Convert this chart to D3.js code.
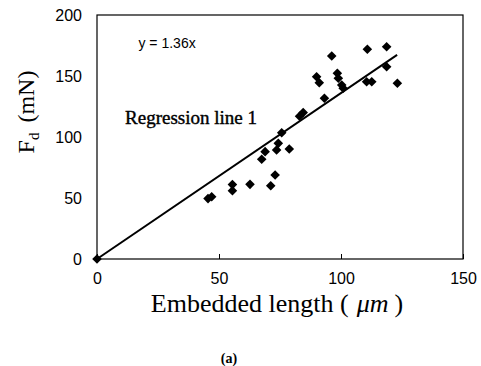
<!DOCTYPE html>
<html>
<head>
<meta charset="utf-8">
<script src="https://cdn.jsdelivr.net/npm/d3@7"></script>
<style>
  body { margin: 0; background: #fff; }
  .tick text { font-family: "Liberation Sans", Arial, sans-serif; font-size: 16px; fill: #000; }
</style>
</head>
<body>
<div id="chart"></div>
<script>
// embedded length (um) and pull-out force (mN)
var embedded = [0, 45.5, 47, 55.5, 55.5, 62.7, 71.2, 73, 67.5, 68.9, 73.6, 74.3, 75.7, 78.8,
  83, 84.5, 90, 91.1, 93.2, 96.2, 98.5, 98.9, 100.3, 100.9, 110.8, 110.5, 112.6, 118.7, 118.7, 123.1];
var force = [0, 49.5, 51, 56, 61, 61.2, 60, 68.9, 81.7, 88, 89.3, 94.8, 103.5, 90.2,
  117, 120, 149.4, 144.5, 131.7, 166.4, 152.2, 148.1, 142.6, 139.9, 171.9, 145.3, 145.3, 174, 157.6, 144];
var slope = 1.36;
var fitRange = [0, 123];
var xTicks = [0, 50, 100, 150];
var yTicks = [0, 50, 100, 150, 200];

(function() {
  var margin, width, height, svg, g, x, y, pts, i, fit, xt, yt;
  margin = { top: 15, right: 18, bottom: 107, left: 97 };
  width = 481 - margin.left - margin.right;
  height = 366 - margin.top - margin.bottom;

  svg = d3.select("#chart").append("svg").attr("width", 481).attr("height", 366);
  g = svg.append("g").attr("transform", "translate(" + margin.left + "," + margin.top + ")");

  x = d3.scaleLinear().domain([0, 150]).range([0, width]);
  y = d3.scaleLinear().domain([0, 200]).range([height, 0]);

  // x axis: ticks point up into the plot
  g.append("g").attr("class", "x axis").attr("transform", "translate(0," + height + ")")
    .call(d3.axisBottom(x).tickValues(xTicks).tickSizeInner(-5).tickSizeOuter(0).tickPadding(14))
    .call(function(a) { a.select(".domain").remove(); });

  g.append("g").attr("class", "y axis")
    .call(d3.axisLeft(y).tickValues(yTicks).tickSize(0).tickPadding(15))
    .call(function(a) { a.select(".domain").remove(); });

  g.selectAll(".x.axis .tick line").attr("stroke", "#000");

  // plot frame
  g.append("rect").attr("x", 0).attr("y", 0).attr("width", width).attr("height", height)
    .attr("fill", "none").attr("stroke", "#000").attr("stroke-width", 1.2);

  fit = fitRange.map(function(v) { return { x: v, y: slope * v }; });
  g.append("path").datum(fit)
    .attr("fill", "none").attr("stroke", "#000").attr("stroke-width", 2)
    .attr("d", d3.line().x(function(d) { return x(d.x); }).y(function(d) { return y(d.y); }));

  pts = [];
  for (i = 0; i < embedded.length; i++) pts.push({ x: embedded[i], y: force[i] });

  g.selectAll(".pt").data(pts).enter().append("path").attr("class", "pt")
    .attr("d", d3.symbol(d3.symbolSquare, 46))
    .attr("transform", function(d) { return "translate(" + x(d.x) + "," + y(d.y) + ") rotate(45)"; })
    .attr("fill", "#000");

  g.append("text").attr("x", x(17)).attr("y", y(173))
    .attr("font-family", "Liberation Sans, Arial, sans-serif").attr("font-size", 14)
    .text("y = 1.36x");

  g.append("text").attr("x", x(11.5)).attr("y", y(111))
    .attr("font-family", "Liberation Serif, Times New Roman, serif").attr("font-size", 19)
    .attr("stroke", "#000").attr("stroke-width", 0.4)
    .text("Regression line 1");

  // axis titles
  xt = svg.append("text").attr("x", 277).attr("y", 312).attr("text-anchor", "middle")
    .attr("font-family", "Liberation Serif, Times New Roman, serif").attr("font-size", 26);
  xt.append("tspan").text("Embedded length (");
  xt.append("tspan").attr("dx", 8).attr("font-style", "italic").text("\u03bcm");
  xt.append("tspan").attr("dx", 6).text(")");

  yt = svg.append("text").attr("transform", "translate(34,112) rotate(-90)").attr("text-anchor", "middle")
    .attr("font-family", "Liberation Serif, Times New Roman, serif").attr("font-size", 24);
  yt.append("tspan").text("F");
  yt.append("tspan").attr("font-size", 15).attr("dy", 5).text("d");
  yt.append("tspan").attr("dy", -5).attr("dx", 4).text(" (mN)");

  svg.append("text").attr("x", 229).attr("y", 363).attr("text-anchor", "middle")
    .attr("font-family", "Liberation Serif, Times New Roman, serif").attr("font-size", 14)
    .attr("font-weight", "bold").text("(a)");
})();
</script>
</body>
</html>
